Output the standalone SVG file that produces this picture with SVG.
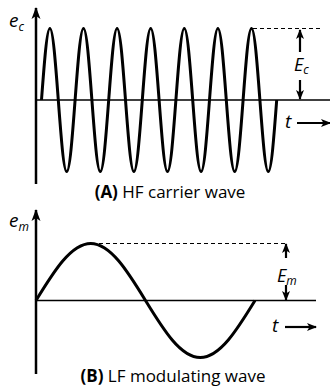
<svg xmlns="http://www.w3.org/2000/svg" width="330" height="388" viewBox="0 0 330 388">
<style>
.ax{stroke:#000;stroke-width:2.5;fill:none}
.base{stroke:#000;stroke-width:1.6;fill:none}
.wave{stroke:#000;stroke-width:3;fill:none;stroke-linejoin:round}
.dash{stroke:#000;stroke-width:1.2;stroke-dasharray:4,3;fill:none}
.sm{stroke:#000;stroke-width:2.2;fill:none}
.lbl{font-family:"Open Sans","Noto Sans",sans-serif;font-style:italic;fill:#000}
.cap{font-family:"Open Sans","Noto Sans",sans-serif;font-size:17px;fill:#000}
</style>
<defs>
<marker id="ah" markerUnits="userSpaceOnUse" markerWidth="12" markerHeight="10" viewBox="0 0 12 10" refX="11" refY="5" orient="auto">
<path d="M0,0.5 L12,5 L0,9.5 L3,5 z" fill="#000"/>
</marker>
<marker id="ahs" markerUnits="userSpaceOnUse" markerWidth="10" markerHeight="9" viewBox="0 0 10 9" refX="9" refY="4.5" orient="auto">
<path d="M0,0.5 L10,4.5 L0,8.5 L2.5,4.5 z" fill="#000"/>
</marker>
</defs>
<g id="connectors">
<line class="ax" x1="36" y1="184" x2="36" y2="8" marker-end="url(#ah)"/>
<line class="base" x1="36" y1="100" x2="330" y2="100"/>
<line class="dash" x1="253" y1="28.5" x2="323" y2="28.5"/>
<line class="sm" x1="300" y1="52" x2="300" y2="30" marker-end="url(#ahs)"/>
<line class="sm" x1="300" y1="80" x2="300" y2="99" marker-end="url(#ahs)"/>
<line class="sm" x1="297" y1="123" x2="330" y2="123" marker-end="url(#ahs)"/>
<line class="ax" x1="36" y1="374" x2="36" y2="210" marker-end="url(#ah)"/>
<line class="base" x1="36" y1="300.5" x2="316" y2="300.5"/>
<line class="dash" x1="92" y1="243.5" x2="286" y2="243.5"/>
<line class="sm" x1="286" y1="258" x2="286" y2="244" marker-end="url(#ahs)"/>
<line class="sm" x1="286" y1="285" x2="286" y2="300" marker-end="url(#ahs)"/>
<line class="sm" x1="285" y1="327" x2="316" y2="327" marker-end="url(#ahs)"/>
</g>
<g id="carrier">
<path class="wave" d="M41.5,100
c 2.74,-36.67 5.39,-71.5 8.4,-71.5 c 3.01,0 5.66,34.83 8.4,71.5 c 2.74,36.67 5.39,71.5 8.4,71.5 c 3.01,0 5.66,-34.83 8.4,-71.5
c 2.74,-36.67 5.39,-71.5 8.4,-71.5 c 3.01,0 5.66,34.83 8.4,71.5 c 2.74,36.67 5.39,71.5 8.4,71.5 c 3.01,0 5.66,-34.83 8.4,-71.5
c 2.74,-36.67 5.39,-71.5 8.4,-71.5 c 3.01,0 5.66,34.83 8.4,71.5 c 2.74,36.67 5.39,71.5 8.4,71.5 c 3.01,0 5.66,-34.83 8.4,-71.5
c 2.74,-36.67 5.39,-71.5 8.4,-71.5 c 3.01,0 5.66,34.83 8.4,71.5 c 2.74,36.67 5.39,71.5 8.4,71.5 c 3.01,0 5.66,-34.83 8.4,-71.5
c 2.74,-36.67 5.39,-71.5 8.4,-71.5 c 3.01,0 5.66,34.83 8.4,71.5 c 2.74,36.67 5.39,71.5 8.4,71.5 c 3.01,0 5.66,-34.83 8.4,-71.5
c 2.74,-36.67 5.39,-71.5 8.4,-71.5 c 3.01,0 5.66,34.83 8.4,71.5 c 2.74,36.67 5.39,71.5 8.4,71.5 c 3.01,0 5.66,-34.83 8.4,-71.5
c 2.74,-36.67 5.39,-71.5 8.4,-71.5 c 3.01,0 5.66,34.83 8.4,71.5 c 2.74,36.67 5.39,71.5 8.4,71.5 c 3.01,0 5.66,-34.83 8.4,-71.5"/>
</g>
<g id="modulating">
<path class="wave" d="M36,300.5 c 17.88,-29.23 35.10,-57 54.75,-57 c 19.65,0 36.87,27.77 54.75,57 c 17.88,29.23 35.10,57 54.75,57 c 19.65,0 36.87,-27.77 54.75,-57"/>
</g>
<g id="labels-a">
<text class="lbl" x="9" y="27" font-size="19">e<tspan font-size="12" dy="4">c</tspan></text>
<text class="lbl" x="294" y="71" font-size="18">E<tspan font-size="12" dy="3">c</tspan></text>
<text class="lbl" x="285" y="128" font-size="19">t</text>
<text class="cap" x="170" y="198" text-anchor="middle"><tspan font-weight="bold">(A)</tspan> HF carrier wave</text>
</g>
<g id="labels-b">
<text class="lbl" x="9" y="227" font-size="19">e<tspan font-size="12" dy="4">m</tspan></text>
<text class="lbl" x="277" y="282" font-size="18">E<tspan font-size="12" dy="3">m</tspan></text>
<text class="lbl" x="272" y="332" font-size="19">t</text>
<text class="cap" x="173" y="382" text-anchor="middle"><tspan font-weight="bold">(B)</tspan> LF modulating wave</text>
</g>
</svg>
